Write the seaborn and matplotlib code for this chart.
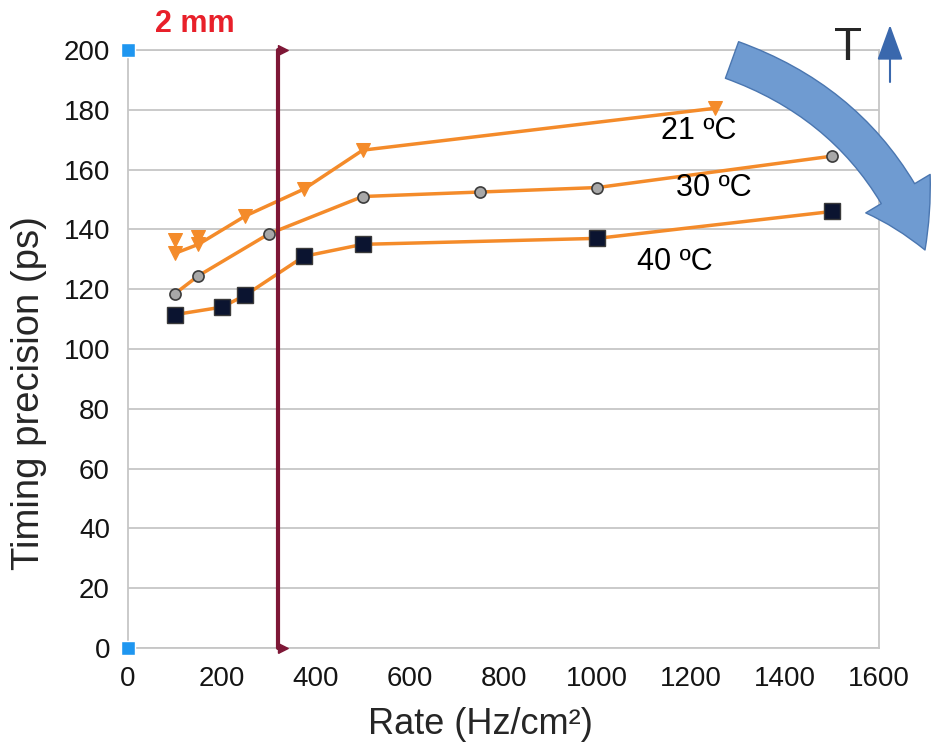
import matplotlib
matplotlib.use("Agg")
import matplotlib.pyplot as plt
import seaborn as sns
from matplotlib.patches import FancyArrowPatch

rate_21 = [100, 150, 250, 375, 500, 1250]
prec_21 = [132, 135, 144.5, 153.5, 166.5, 180.5]
rate_21_extra = [100, 150]
prec_21_extra = [136.5, 137.5]

rate_30 = [100, 150, 300, 500, 750, 1000, 1500]
prec_30 = [118.5, 124.5, 138.5, 151, 152.5, 154, 164.5]

rate_40 = [100, 200, 250, 375, 500, 1000, 1500]
prec_40 = [111.5, 114, 118, 131, 135, 137, 146]

series_labels = ["21 ºC", "30 ºC", "40 ºC"]
label_x = [1215, 1248, 1165]
label_y = [173, 154, 129]

limit_rate = 320          # 2 mm 기준선
handle_x = [0, 0]
handle_y = [0, 200]

x_ticks = [0, 200, 400, 600, 800, 1000, 1200, 1400, 1600]
y_ticks = list(range(0, 201, 20))

sns.set_style("white")
plt.rcParams['font.family'] = ['Liberation Sans', 'DejaVu Sans']

W, H = 933, 750
fig = plt.figure(figsize=(W / 100, H / 100), dpi=100)
ax = fig.add_axes([128 / W, 1 - 648 / H, (879 - 128) / W, (648 - 50) / H])

orange = '#f48b2a'
grid_c = '#c6c6c6'

ax.yaxis.grid(True, color=grid_c, lw=1.3, zorder=0)
ax.xaxis.grid(False)

sns.lineplot(x=rate_21, y=prec_21, ax=ax, color=orange, lw=2.5, marker='v',
             markersize=10, markeredgecolor=orange, sort=False, zorder=3)
sns.scatterplot(x=rate_21_extra, y=prec_21_extra, ax=ax, color=orange, marker='v',
                s=100, edgecolor=orange, zorder=3)
sns.lineplot(x=rate_30, y=prec_30, ax=ax, color=orange, lw=2.5, marker='o',
             markersize=8, markerfacecolor='#a8a8a8', markeredgecolor='#3c3c3c',
             markeredgewidth=1.2, sort=False, zorder=3)
sns.lineplot(x=rate_40, y=prec_40, ax=ax, color=orange, lw=2.5, marker='s',
             markersize=11.5, markerfacecolor='#0b1430', markeredgecolor='#3a3a3a',
             markeredgewidth=1, sort=False, zorder=3)

for lab, lx, ly in zip(series_labels, label_x, label_y):
    ax.text(lx, ly, lab, fontsize=22, ha='center', va='center', color='black', zorder=4)

# 2 mm 기준선
tri = [(0, -1), (0, 1), (2, 0), (0, -1)]
ax.plot([limit_rate, limit_rate], [0, 200], color='#7e1736', lw=3, marker=tri,
        markersize=14, clip_on=False, zorder=5)
ax.text(143, 208.7, "2 mm", fontsize=22, fontweight='bold',
        color='#e8202a', ha='center', va='center')

# 선택 핸들 (파란 사각형)
sns.scatterplot(x=handle_x, y=handle_y, ax=ax, color='#1e96f0', marker='s', s=110,
                edgecolor='white', linewidth=1, clip_on=False, zorder=6)

ax.set_xlim(0, 1600)
ax.set_ylim(0, 200)
ax.set_xticks(x_ticks)
ax.set_yticks(y_ticks)
ax.tick_params(axis='both', direction='out', length=7, width=1.3, color=grid_c,
               labelsize=20, labelcolor='#141414', pad=6)
for s in ['left', 'bottom', 'right', 'top']:
    ax.spines[s].set_color(grid_c)
    ax.spines[s].set_linewidth(1.3)

ax.set_xlabel("Rate (Hz/cm²)", fontsize=26)
ax.set_ylabel("Timing precision (ps)", fontsize=27.5)
ax.xaxis.set_label_coords(0.469, -0.098)
ax.yaxis.set_label_coords(-0.108, 0.426)

# 온도 방향 화살표
def fpx(x, y):
    return (x / W, 1 - y / H)

big = FancyArrowPatch(fpx(732, 60), fpx(925, 250), transform=fig.transFigure,
                      connectionstyle="arc3,rad=-0.23",
                      arrowstyle="simple,head_length=4.5,head_width=5.4,tail_width=2.8",
                      mutation_scale=10, facecolor='#6f9bd1', edgecolor='#4a76b0',
                      lw=1, shrinkA=0, shrinkB=0)
fig.add_artist(big)

small = FancyArrowPatch(fpx(890, 82), fpx(890, 25), transform=fig.transFigure,
                        arrowstyle="-|>,head_length=2.2,head_width=0.8",
                        mutation_scale=10, color='#3a68ad', lw=1.5,
                        shrinkA=0, shrinkB=0)
fig.add_artist(small)
fig.text(848 / W, 1 - 48 / H, "T", fontsize=33, ha='center', va='center')

fig.savefig("out.png", dpi=100)
